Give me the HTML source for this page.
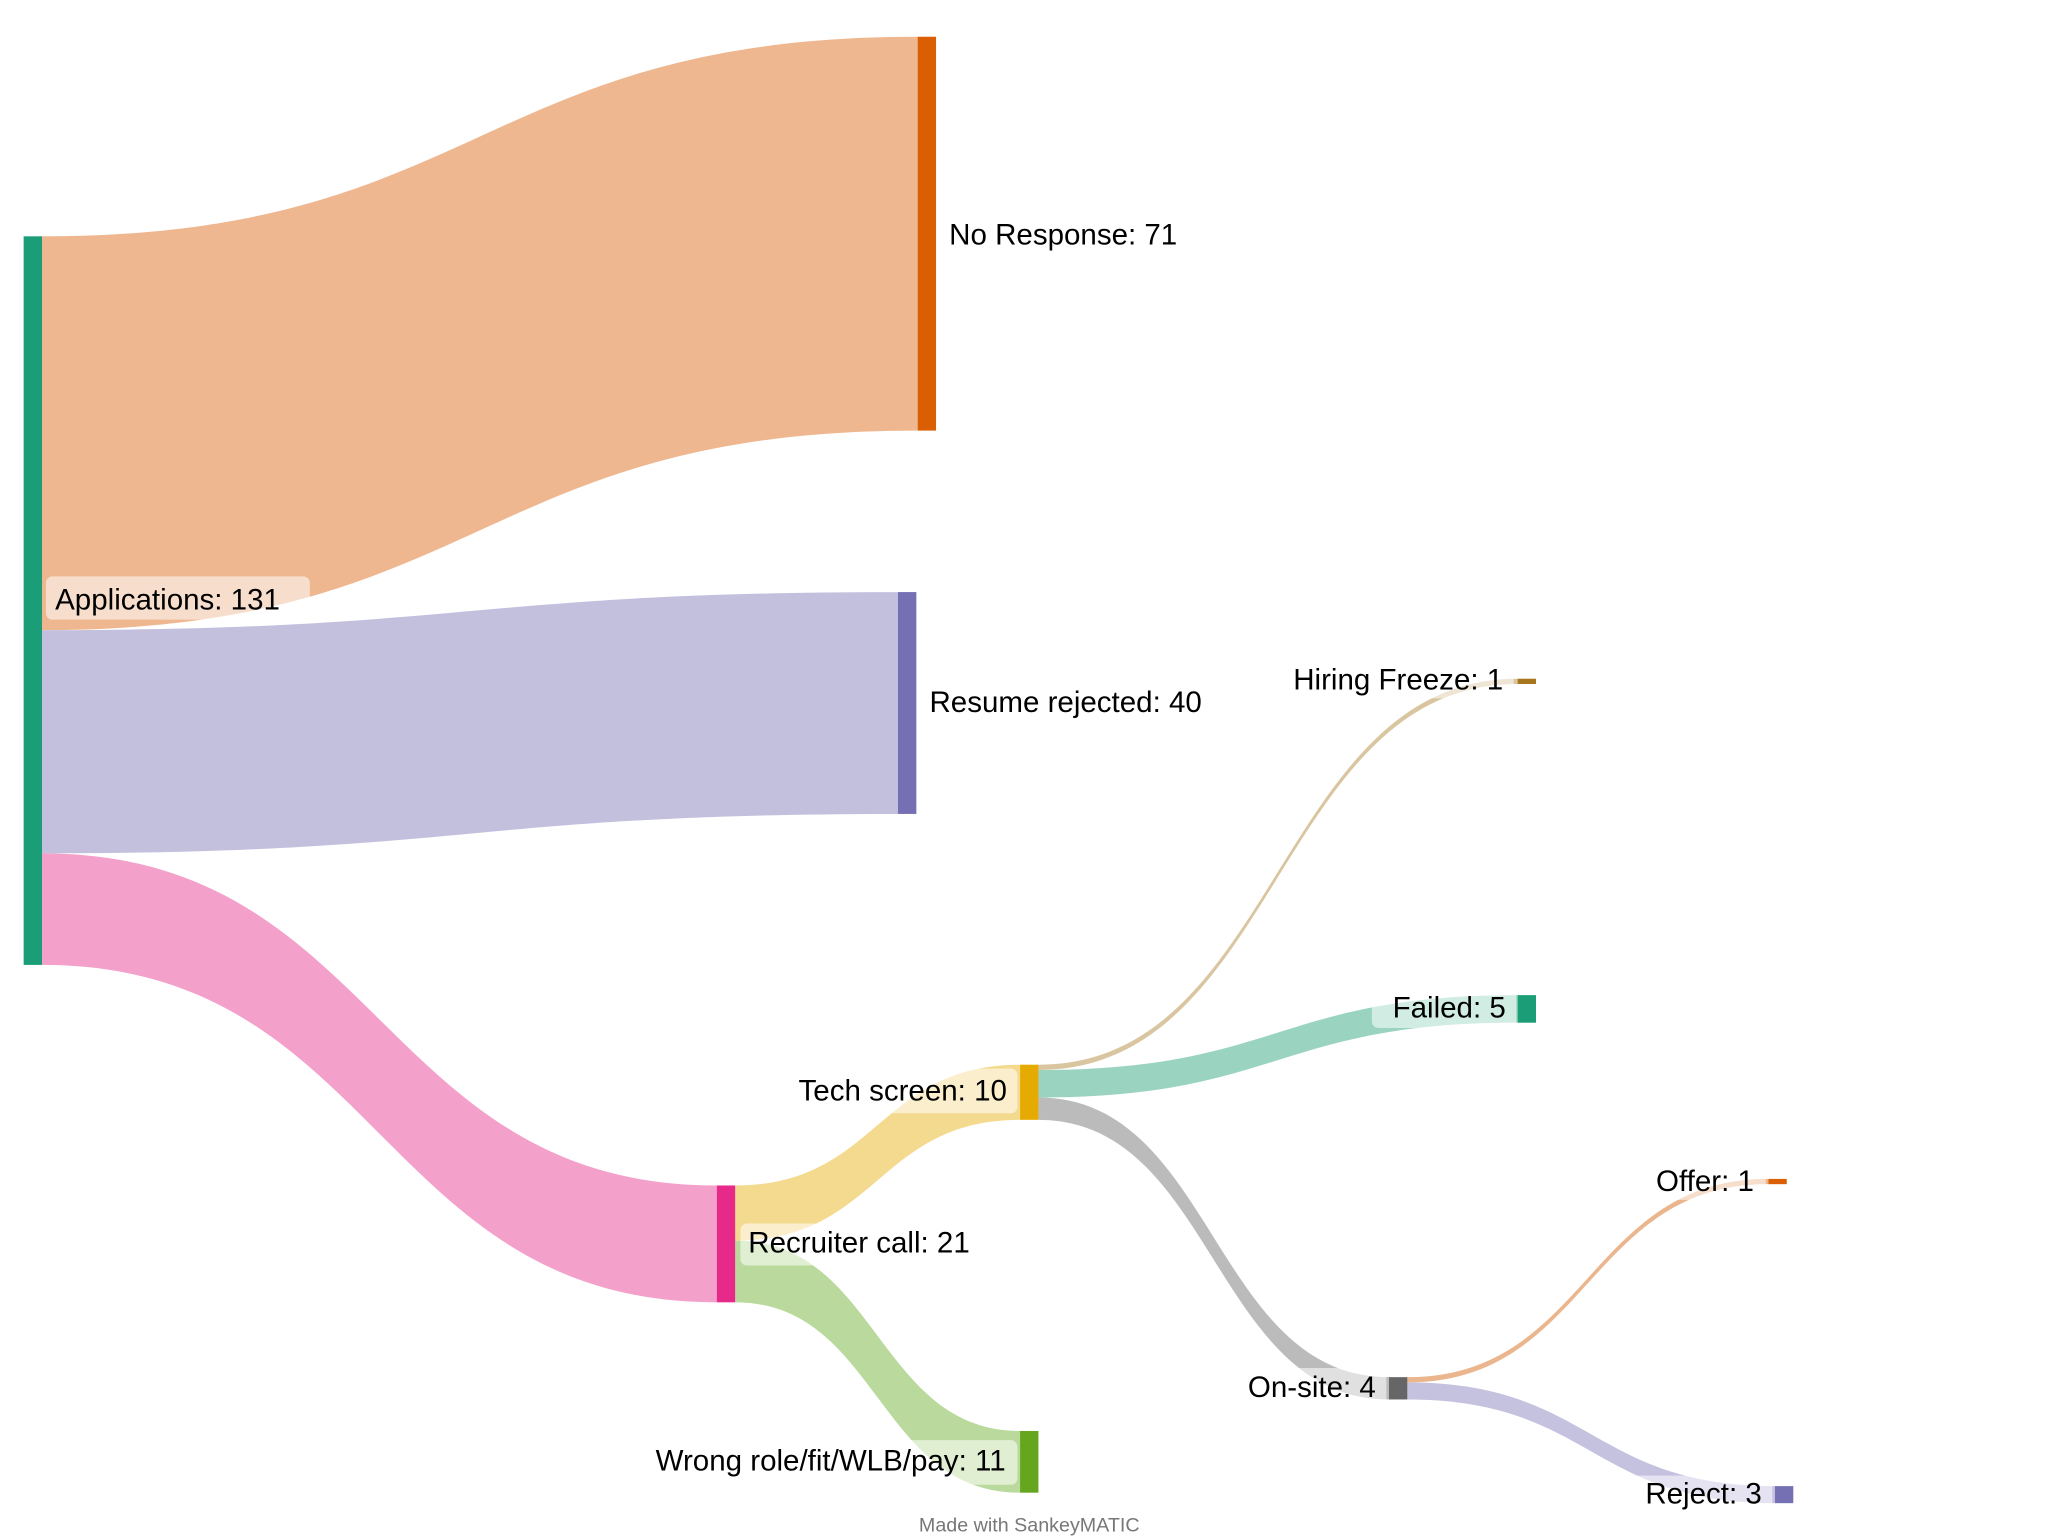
<!DOCTYPE html>
<html><head><meta charset="utf-8"><style>
html,body{margin:0;padding:0;background:#fff;}
svg{display:block;}
text{font-family:"Liberation Sans",Arial,sans-serif;font-size:22.5px;fill:#000;dominant-baseline:central;}
.bg{fill:#fff;fill-opacity:0.55;}
</style></head><body>
<svg width="2048" height="1536" viewBox="0 0 1560 1170" xmlns="http://www.w3.org/2000/svg">
<rect width="1560" height="1170" fill="#fff"/>
<!-- flows -->
<path d="M32 180 C365.5 180 365.5 28 699 28 L699 328 C365.5 328 365.5 480 32 480 Z" fill="#eeb78f"/>
<path d="M32 480 C358 480 358 451 684 451 L684 620 C358 620 358 650 32 650 Z" fill="#c3c0de"/>
<path d="M32 650 C289 650 289 903 546 903 L546 992 C289 992 289 735 32 735 Z" fill="#f3a0cb"/>
<path d="M560 903 C668.5 903 668.5 811 777 811 L777 853 C668.5 853 668.5 945 560 945 Z" fill="#f4da8f"/>
<path d="M560 945 C668.5 945 668.5 1090 777 1090 L777 1137 C668.5 1137 668.5 992 560 992 Z" fill="#bad99c"/>
<path d="M791 811 C973.5 811 973.5 517 1156 517 L1156 521 C973.5 521 973.5 815 791 815 Z" fill="#d9c59f"/>
<path d="M791 815 C973.5 815 973.5 758 1156 758 L1156 779 C973.5 779 973.5 836 791 836 Z" fill="#9ad4c1"/>
<path d="M791 836 C924.5 836 924.5 1049 1058 1049 L1058 1066 C924.5 1066 924.5 853 791 853 Z" fill="#bbbbbb"/>
<path d="M1072 1049 C1209.5 1049 1209.5 898 1347 898 L1347 902 C1209.5 902 1209.5 1053 1072 1053 Z" fill="#ebb68e"/>
<path d="M1072 1053 C1212 1053 1212 1132 1352 1132 L1352 1145 C1212 1145 1212 1066 1072 1066 Z" fill="#c5c2e0"/>
<!-- nodes -->
<rect x="18" y="180" width="14" height="555" fill="#1b9e77"/>
<rect x="699" y="28" width="14" height="300" fill="#d95f02"/>
<rect x="684" y="451" width="14" height="169" fill="#7570b3"/>
<rect x="546" y="903" width="14" height="89" fill="#e7298a"/>
<rect x="777" y="811" width="14" height="42" fill="#e6ab02"/>
<rect x="777" y="1090" width="14" height="47" fill="#66a61e"/>
<rect x="1156" y="517" width="14" height="4" fill="#a6761d"/>
<rect x="1156" y="758" width="14" height="21" fill="#1b9e77"/>
<rect x="1058" y="1049" width="14" height="17" fill="#666666"/>
<rect x="1347" y="898" width="14" height="4" fill="#d95f02"/>
<rect x="1352" y="1132" width="14" height="13" fill="#7570b3"/>
<!-- label backgrounds -->
<rect class="bg" x="35" y="439" width="201" height="33" rx="5"/>
<rect class="bg" x="1045" y="753" width="110" height="30" rx="5"/>
<rect class="bg" x="588" y="814" width="187" height="34" rx="5"/>
<rect class="bg" x="564" y="932" width="195" height="32" rx="5"/>
<rect class="bg" x="470" y="1097" width="305" height="34" rx="5"/>
<rect class="bg" x="936" y="1042" width="120" height="30" rx="5"/>
<rect class="bg" x="1240" y="1124" width="110" height="30" rx="5"/>
<rect class="bg" x="1250" y="886" width="95" height="28" rx="5"/>
<rect class="bg" x="965" y="504" width="188" height="28" rx="5"/>
<!-- labels -->
<text x="42" y="457">Applications: 131</text>
<text x="723" y="179">No Response: 71</text>
<text x="708" y="535">Resume rejected: 40</text>
<text x="1145" y="518" text-anchor="end">Hiring Freeze: 1</text>
<text x="1147" y="768" text-anchor="end">Failed: 5</text>
<text x="767" y="831" text-anchor="end">Tech screen: 10</text>
<text x="570" y="947">Recruiter call: 21</text>
<text x="766" y="1113" text-anchor="end">Wrong role/fit/WLB/pay: 11</text>
<text x="1048" y="1057" text-anchor="end">On-site: 4</text>
<text x="1336" y="900" text-anchor="end">Offer: 1</text>
<text x="1342" y="1138" text-anchor="end">Reject: 3</text>
<text x="784" y="1162" text-anchor="middle" style="font-size:15px;fill:#777;">Made with SankeyMATIC</text>
</svg>
</body></html>
